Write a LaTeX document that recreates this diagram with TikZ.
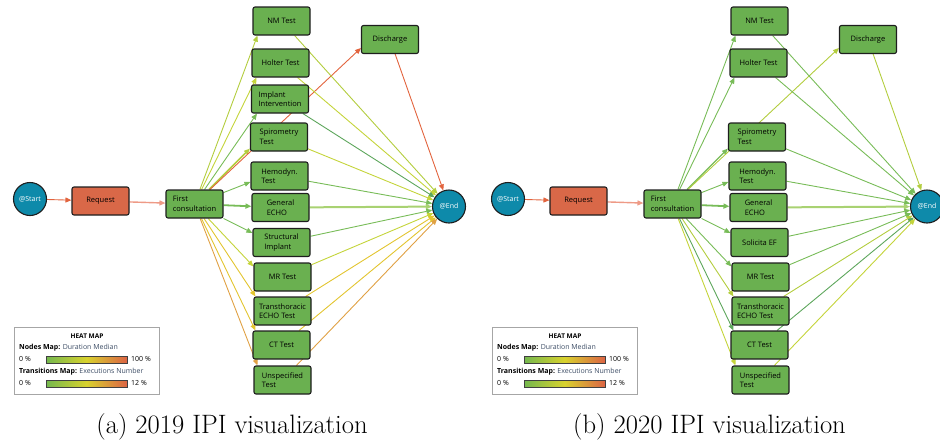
\documentclass[tikz,border=0pt]{standalone}
\usepackage{fontspec}
\usetikzlibrary{arrows.meta,backgrounds}
\newfontfamily\uifont{Open Sans}

\definecolor{boxgreen}{HTML}{6AB050}
\definecolor{boxred}{HTML}{D96848}
\definecolor{boxline}{HTML}{1E1E1E}
\definecolor{endblue}{HTML}{0E8AAA}
\definecolor{ered}{HTML}{E2643E}
\definecolor{esal}{HTML}{EE9A86}
\definecolor{eg}{HTML}{78BC58}
\definecolor{egl}{HTML}{A9D272}
\definecolor{egd}{HTML}{5DA65C}
\definecolor{ey}{HTML}{B3CD3E}
\definecolor{eyl}{HTML}{C4D43A}
\definecolor{eye}{HTML}{E2C52F}
\definecolor{eor}{HTML}{E0A144}
\definecolor{hgreen}{HTML}{74B84E}
\definecolor{hyellow}{HTML}{D8D22E}
\definecolor{hred}{HTML}{DC6444}
\definecolor{legtxt}{HTML}{3E4E66}

\begin{document}
\begin{tikzpicture}[x=1pt,y=-1pt]
    \tikzstyle{act}=[rectangle, rounded corners=2pt, draw=boxline, line width=1.1pt, fill=boxgreen, minimum width=57pt, minimum height=28pt, inner sep=1pt, align=left, font=\uifont\fontsize{7.5}{9.5}\selectfont]
    \tikzstyle{ends}=[circle, draw=boxline, line width=1.1pt, fill=endblue, minimum size=33pt, inner sep=0pt, text=white, font=\uifont\fontsize{7}{8}\selectfont]
    \tikzstyle{tr}=[-{Triangle[length=6pt,width=5pt]}, line width=0.9pt]
    \tikzstyle{legbox}=[rectangle, draw=black!35, line width=0.8pt, fill=white, minimum width=145pt, minimum height=67pt]
    \tikzstyle{legtext}=[inner sep=0pt, anchor=west, font=\uifont\fontsize{7}{8}\selectfont]
    \tikzstyle{heatbar}=[draw=black!75, line width=0.5pt, left color=hgreen, right color=hred, middle color=hyellow]
    \tikzstyle{caption}=[font=\fontsize{26.6}{30}\selectfont]

    \useasboundingbox (0,0) rectangle (940,445);

    % (a) 2019
    \node[ends] (st1) at (30,199) {@Start};
    \node[act, fill=boxred] (rq1) at (100.5,201) {Request};
    \node[act] (fc1) at (194.5,204) {First\\consultation};
    \node[act] (nm1) at (281.5,21) {NM Test};
    \node[act] (ho1) at (280.5,63) {Holter Test};
    \node[act] (im1) at (280,99) {Implant\\Intervention};
    \node[act] (sp1) at (279,137) {Spirometry\\Test};
    \node[act] (he1) at (279.5,176) {Hemodyn.\\Test};
    \node[act] (ge1) at (280.5,207.5) {General\\ECHO};
    \node[act] (si1) at (281.5,242.5) {Structural\\Implant};
    \node[act] (mr1) at (282.5,277) {MR Test};
    \node[act] (tt1) at (282.5,311) {Transthoracic\\ECHO Test};
    \node[act] (ct1) at (281.5,345) {CT Test};
    \node[act] (us1) at (282.5,380) {Unspecified\\Test};
    \node[act] (dc1) at (390,39.5) {Discharge};
    \node[ends] (en1) at (449,206.5) {@End};

    \begin{scope}[on background layer]
        \draw[tr, ered] (st1) -- (rq1);
        \draw[tr, esal, line width=1.4pt] (rq1) -- (fc1);
        \draw[tr, ey] (fc1) -- ([xshift=5pt]nm1.south west);
        \draw[tr, eyl] (fc1) -- ([xshift=5pt]ho1.south west);
        \draw[tr, eg] (fc1) -- ([xshift=6pt]im1.south west);
        \draw[tr, ey, line width=1.5pt] (fc1) -- ([yshift=3pt]sp1.south west);
        \draw[tr, ered] (fc1) -- ([yshift=-8.5pt]dc1.west);
        \draw[tr, eg] (fc1) -- ([yshift=-6pt]he1.west);
        \draw[tr, eg, line width=1.8pt] (fc1) -- (ge1);
        \draw[tr, eg] (fc1) -- ([yshift=-5pt]si1.north west);
        \draw[tr, eyl] (fc1) -- ([yshift=-4pt]mr1.north west);
        \draw[tr, eye] (fc1) -- ([xshift=2pt]tt1.north west);
        \draw[tr, eye] (fc1) -- ([xshift=3pt]ct1.north west);
        \draw[tr, eor] (fc1) -- ([xshift=4pt]us1.north west);

        \draw[tr, ey] (nm1) -- (en1);
        \draw[tr, eyl] (ho1) -- (en1);
        \draw[tr, egd] (im1) -- (en1);
        \draw[tr, eyl] (sp1) -- (en1);
        \draw[tr, eg] (he1) -- (en1);
        \draw[tr, egl, line width=2pt] (ge1) -- (en1);
        \draw[tr, eg] (si1) -- (en1);
        \draw[tr, eyl] (mr1) -- (en1);
        \draw[tr, eye] (tt1) -- (en1);
        \draw[tr, eye] (ct1) -- (en1);
        \draw[tr, eor] (us1) -- (en1);
        \draw[tr, ered] (dc1) -- (en1);
    \end{scope}

    \node[legbox] (lg1) at (86.5,360.5) {};
    \node[font=\uifont\bfseries\fontsize{6.5}{7}\selectfont, inner sep=0pt] (lh1) at (87,336) {HEAT MAP};
    \node[legtext] (ln1) at (19,348) {\textbf{Nodes Map:} \textcolor{legtxt}{Duration Median}};
    \node[legtext] (la1) at (19,359) {0 \%};
    \draw[heatbar] (46,356) rectangle (127,363);
    \node[legtext] (lb1) at (131,359) {100 \%};
    \node[legtext] (lt1) at (19,372) {\textbf{Transitions Map:} \textcolor{legtxt}{Executions Number}};
    \node[legtext] (lc1) at (19,383) {0 \%};
    \draw[heatbar] (46,380) rectangle (127,387);
    \node[legtext] (ld1) at (131,383) {12 \%};

    \node[caption] (cp1) at (232,427) {(a) 2019 IPI visualization};

    % (b) 2020
    \begin{scope}[xshift=478pt]
    \node[ends] (st2) at (30,199) {@Start};
    \node[act, fill=boxred] (rq2) at (100.5,201) {Request};
    \node[act] (fc2) at (194.5,204) {First\\consultation};
    \node[act] (nm2) at (281.5,21) {NM Test};
    \node[act] (ho2) at (280.5,63) {Holter Test};
    \node[act] (sp2) at (279,137) {Spirometry\\Test};
    \node[act] (he2) at (279.5,176) {Hemodyn.\\Test};
    \node[act] (ge2) at (280.5,207.5) {General\\ECHO};
    \node[act] (so2) at (281.5,242.5) {Solicita EF};
    \node[act] (mr2) at (282.5,277) {MR Test};
    \node[act] (tt2) at (282.5,311) {Transthoracic\\ECHO Test};
    \node[act] (ct2) at (281.5,345) {CT Test};
    \node[act] (us2) at (282.5,380) {Unspecified\\Test};
    \node[act] (dc2) at (390,39.5) {Discharge};
    \node[ends] (en2) at (449,206.5) {@End};

    \begin{scope}[on background layer]
        \draw[tr, ered] (st2) -- (rq2);
        \draw[tr, esal, line width=1.4pt] (rq2) -- (fc2);
        \draw[tr, eg] (fc2) -- ([xshift=5pt]nm2.south west);
        \draw[tr, eg] (fc2) -- ([xshift=5pt]ho2.south west);
        \draw[tr, eg, line width=1.2pt] (fc2) -- ([yshift=3pt]sp2.south west);
        \draw[tr, ey] (fc2) -- ([yshift=-8.5pt]dc2.west);
        \draw[tr, eg] (fc2) -- ([yshift=-6pt]he2.west);
        \draw[tr, eg, line width=1.8pt] (fc2) -- (ge2);
        \draw[tr, eg] (fc2) -- ([yshift=-5pt]so2.north west);
        \draw[tr, eg] (fc2) -- ([yshift=-4pt]mr2.north west);
        \draw[tr, ey] (fc2) -- ([xshift=2pt]tt2.north west);
        \draw[tr, egd] (fc2) -- ([xshift=3pt]ct2.north west);
        \draw[tr, eyl] (fc2) -- ([xshift=4pt]us2.north west);

        \draw[tr, eg] (nm2) -- (en2);
        \draw[tr, eg] (ho2) -- (en2);
        \draw[tr, eg] (sp2) -- (en2);
        \draw[tr, eg] (he2) -- (en2);
        \draw[tr, egl, line width=2pt] (ge2) -- (en2);
        \draw[tr, eg] (so2) -- (en2);
        \draw[tr, eg] (mr2) -- (en2);
        \draw[tr, ey] (tt2) -- (en2);
        \draw[tr, egd] (ct2) -- (en2);
        \draw[tr, eyl] (us2) -- (en2);
        \draw[tr, ey] (dc2) -- (en2);
    \end{scope}

    \node[legbox] (lg2) at (86.5,360.5) {};
    \node[font=\uifont\bfseries\fontsize{6.5}{7}\selectfont, inner sep=0pt] (lh2) at (87,336) {HEAT MAP};
    \node[legtext] (ln2) at (19,348) {\textbf{Nodes Map:} \textcolor{legtxt}{Duration Median}};
    \node[legtext] (la2) at (19,359) {0 \%};
    \draw[heatbar] (46,356) rectangle (127,363);
    \node[legtext] (lb2) at (131,359) {100 \%};
    \node[legtext] (lt2) at (19,372) {\textbf{Transitions Map:} \textcolor{legtxt}{Executions Number}};
    \node[legtext] (lc2) at (19,383) {0 \%};
    \draw[heatbar] (46,380) rectangle (127,387);
    \node[legtext] (ld2) at (131,383) {12 \%};

    \node[caption] (cp2) at (231.5,427) {(b) 2020 IPI visualization};
    \end{scope}
\end{tikzpicture}
\end{document}
